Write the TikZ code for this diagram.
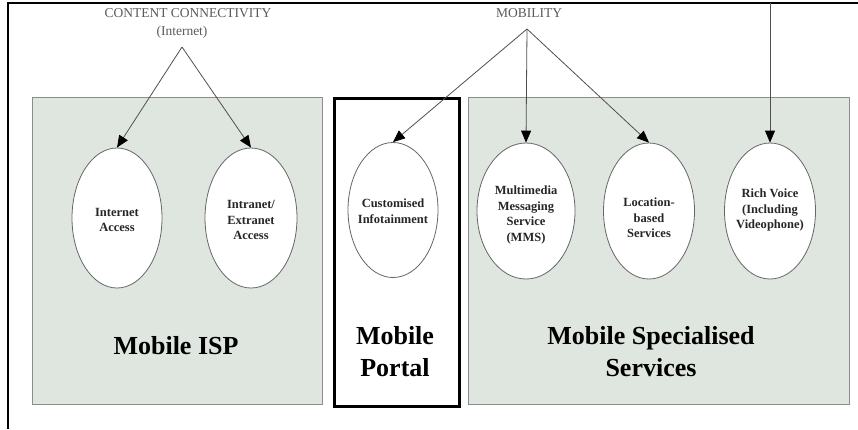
\documentclass[tikz,border=0pt]{standalone}
\usepackage{fontspec}
\setmainfont{Liberation Serif}
\usetikzlibrary{shapes.geometric,arrows.meta}
\definecolor{boxfill}{HTML}{DFE5DF}
\definecolor{boxline}{HTML}{8C8C8C}
\definecolor{ellline}{HTML}{666666}
\definecolor{arrline}{HTML}{505050}
\definecolor{toptext}{HTML}{5A5A5A}
\begin{document}
\begin{tikzpicture}[x=1pt,y=-1pt,
  svcbox/.style={rectangle,fill=boxfill,draw=boxline,line width=1pt,inner sep=0pt,anchor=north west},
  portalbox/.style={rectangle,fill=white,draw=black,line width=3pt,inner sep=0pt,anchor=north west},
  svc/.style={ellipse,draw=ellline,fill=white,line width=0.8pt,inner sep=0pt},
  svctext/.style={font=\fontsize{12.5}{15.5}\selectfont\bfseries,align=center,text=black!85,inner sep=0pt},
  boxlabel/.style={font=\fontsize{26}{32}\selectfont\bfseries,align=center,inner sep=0pt},
  toplabel/.style={font=\fontsize{13.5}{16}\selectfont,text=toptext,inner sep=0pt},
  arr/.style={draw=arrline,line width=0.8pt,-{Triangle[length=12pt,width=10pt,color=black]}}]
\useasboundingbox (0,0) rectangle (858,429);
\fill[white] (0,0) rectangle (858,429);
\draw[line width=1.5pt] (858,3) -- (8,3) -- (8,429);

% group boxes
\node[svcbox,minimum width=290pt,minimum height=307pt] (isp) at (32,97) {};
\node[portalbox,minimum width=125pt,minimum height=308pt] (portal) at (333,97) {};
\node[svcbox,minimum width=381pt,minimum height=307pt] (spec) at (468,97) {};

% group labels
\node[boxlabel] (isplab) at (176,346) {Mobile ISP};
\node[boxlabel] (portallab) at (395,352) {Mobile\\Portal};
\node[boxlabel] (speclab) at (651,352) {Mobile Specialised\\Services};

% top labels
\node[toplabel] (cc) at (188,13) {CONTENT CONNECTIVITY};
\node[toplabel] (ccint) at (182,32) {(Internet)};
\coordinate (ccapex) at (182,47);
\node[toplabel] (mob) at (529,13) {MOBILITY};
\coordinate (mobapex) at (527,29);
\coordinate (rvtop) at (770,3);

% services
\node[svc,minimum width=90pt,minimum height=140pt] (ia) at (117,218) {};
\node[svctext] (iat) at (117,220) {Internet\\Access};
\node[svc,minimum width=92pt,minimum height=140pt] (ie) at (251,218) {};
\node[svctext] (iet) at (251,220) {Intranet/\\Extranet\\Access};
\node[svc,minimum width=90pt,minimum height=135pt] (ci) at (393,210) {};
\node[svctext] (cit) at (393,211) {Customised\\Infotainment};
\node[svc,minimum width=98pt,minimum height=136pt] (mms) at (526,211) {};
\node[svctext] (mmst) at (526,215) {Multimedia\\Messaging\\Service\\(MMS)};
\node[svc,minimum width=91pt,minimum height=136pt] (lbs) at (649,211) {};
\node[svctext] (lbst) at (649,218) {Location-\\based\\Services};
\node[svc,minimum width=91pt,minimum height=136pt] (rv) at (770,211) {};
\node[svctext] (rvt) at (770,210) {Rich Voice\\(Including\\Videophone)};

% connectors
\draw[arr] (ccapex) -- (ia.north);
\draw[arr] (ccapex) -- (ie.north);
\draw[arr] (mobapex) -- (ci.north);
\draw[arr] (mobapex) -- (mms.north);
\draw[arr] (mobapex) -- (lbs.north);
\draw[arr] (rvtop) -- (rv.north);
\end{tikzpicture}
\end{document}
